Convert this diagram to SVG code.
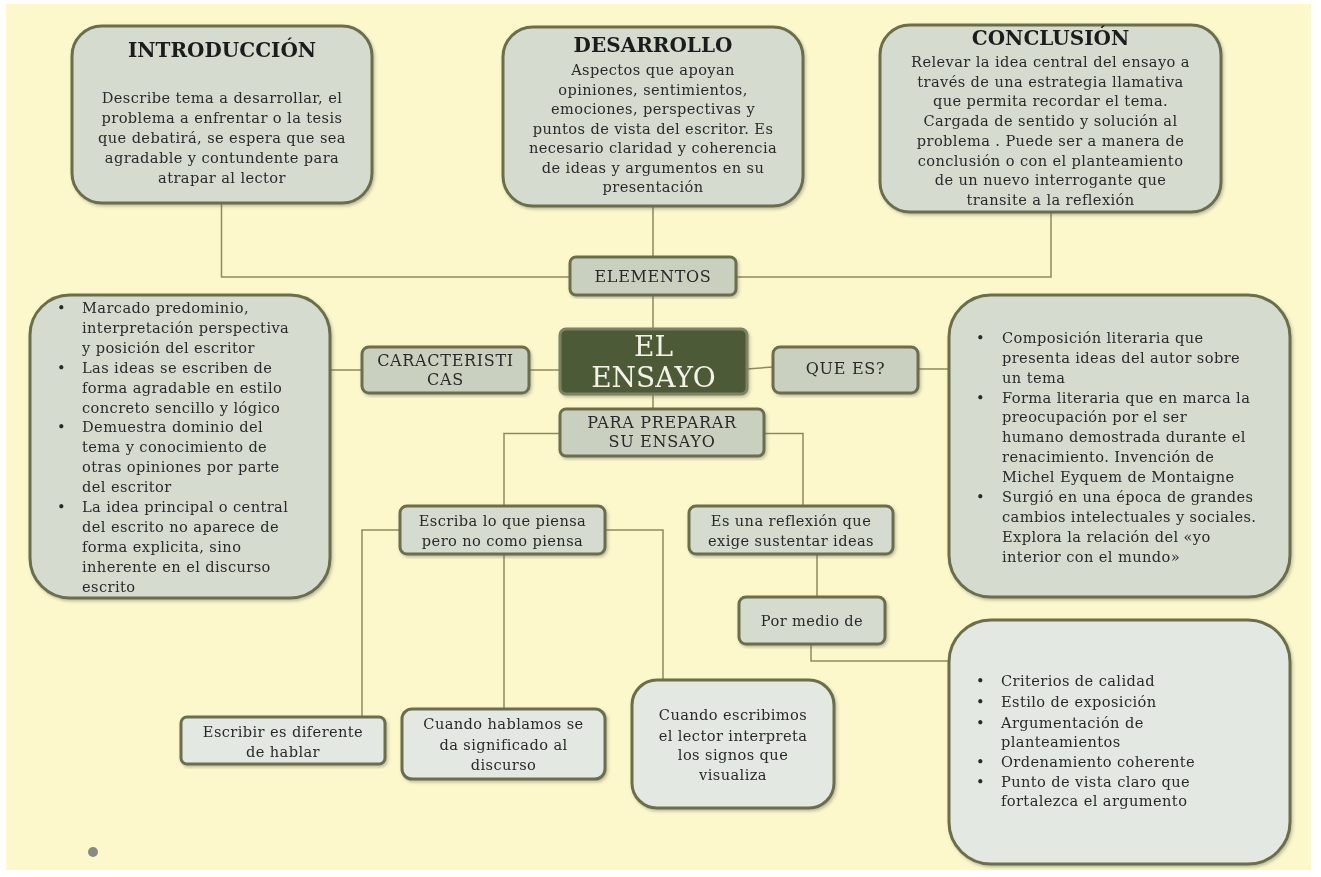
<svg xmlns="http://www.w3.org/2000/svg" width="1321" height="877" viewBox="0 0 1321 877">
<defs>
<style>
.bg{fill:#fcf8cc}
.box{fill:#d5dbcf;stroke:#6b6e4c;stroke-width:3}
.lbl{fill:#c9d0c0;stroke:#6b6e4c;stroke-width:3}
.lite{fill:#e4e8e2;stroke:#6b6e4c;stroke-width:3}
.core{fill:#4e5a38;stroke:#7b8262;stroke-width:3}
.t{font-family:"DejaVu Serif","Liberation Serif",serif;font-size:14.6px;letter-spacing:0.4px;fill:#2a2a2a}
.c{text-anchor:middle}
.h{font-family:"DejaVu Serif","Liberation Serif",serif;font-size:20px;font-weight:bold;fill:#1e1e1e;text-anchor:middle}
.n{font-family:"DejaVu Serif","Liberation Serif",serif;font-size:16px;letter-spacing:0.7px;fill:#2a2a2a;text-anchor:middle}
.w{font-family:"DejaVu Serif","Liberation Serif",serif;font-size:28px;fill:#f2f2e6;text-anchor:middle}
.ln{fill:none;stroke:#8d8b5c;stroke-width:1.5}
</style>
<filter id="sh" x="-5%" y="-5%" width="115%" height="115%">
<feDropShadow dx="1.5" dy="2" stdDeviation="1.5" flood-color="#555" flood-opacity="0.35"/>
</filter>
</defs>
<rect width="1321" height="877" fill="#ffffff"/>
<rect class="bg" x="6" y="4" width="1305" height="866"/>

<g id="connectors">
<path class="ln" d="M221.5 202 V277 H1051 V212"/>
<path class="ln" d="M653 206 V257"/>
<path class="ln" d="M653 295 V329"/>
<path class="ln" d="M330 370 H362"/>
<path class="ln" d="M529 370 H560"/>
<path class="ln" d="M747 369 L773 367"/>
<path class="ln" d="M918 369 H949"/>
<path class="ln" d="M653 394 V409"/>
<path class="ln" d="M560 433.5 H504 V506"/>
<path class="ln" d="M764 433.5 H803 V506"/>
<path class="ln" d="M400 530 H362 V717"/>
<path class="ln" d="M504 554 V709"/>
<path class="ln" d="M605 530 H663 V680"/>
<path class="ln" d="M817 554 V597"/>
<path class="ln" d="M811 644 V661 H949"/>
</g>

<g id="introduccion" filter="url(#sh)">
<rect class="box" x="72" y="26" width="300" height="177" rx="30"/>
<text class="h" x="222" y="57">INTRODUCCIÓN</text>
<text class="t c" x="222" y="103">Describe tema a desarrollar, el</text>
<text class="t c" x="222" y="123">problema a enfrentar o la tesis</text>
<text class="t c" x="222" y="143">que debatirá, se espera que sea</text>
<text class="t c" x="222" y="163">agradable y contundente para</text>
<text class="t c" x="222" y="183">atrapar al lector</text>
</g>

<g id="desarrollo" filter="url(#sh)">
<rect class="box" x="503" y="27" width="300" height="179" rx="30"/>
<text class="h" x="653" y="52">DESARROLLO</text>
<text class="t c" x="653" y="75">Aspectos que apoyan</text>
<text class="t c" x="653" y="94.5">opiniones, sentimientos,</text>
<text class="t c" x="653" y="114">emociones, perspectivas y</text>
<text class="t c" x="653" y="133.5">puntos de vista del escritor. Es</text>
<text class="t c" x="653" y="153">necesario claridad y coherencia</text>
<text class="t c" x="653" y="172.5">de ideas y argumentos en su</text>
<text class="t c" x="653" y="192">presentación</text>
</g>

<g id="conclusion" filter="url(#sh)">
<rect class="box" x="880" y="25" width="341" height="187" rx="30"/>
<text class="h" x="1050.5" y="45">CONCLUSIÓN</text>
<text class="t c" x="1050.5" y="67">Relevar la idea central del ensayo a</text>
<text class="t c" x="1050.5" y="86.7">través de una estrategia llamativa</text>
<text class="t c" x="1050.5" y="106.4">que permita recordar el tema.</text>
<text class="t c" x="1050.5" y="126">Cargada de sentido y solución al</text>
<text class="t c" x="1050.5" y="145.8">problema . Puede ser a manera de</text>
<text class="t c" x="1050.5" y="165.5">conclusión o con el planteamiento</text>
<text class="t c" x="1050.5" y="185.2">de un nuevo interrogante que</text>
<text class="t c" x="1050.5" y="205">transite a la reflexión</text>
</g>

<g id="elementos" filter="url(#sh)">
<rect class="lbl" x="570" y="257" width="166" height="38" rx="6"/>
<text class="n" x="653" y="282">ELEMENTOS</text>
</g>

<g id="el-ensayo" filter="url(#sh)">
<rect class="core" x="560" y="329" width="187" height="65" rx="6"/>
<text class="w" x="653.5" y="356">EL</text>
<text class="w" x="653.5" y="387">ENSAYO</text>
</g>

<g id="caracteristicas" filter="url(#sh)">
<rect class="lbl" x="362" y="347" width="167" height="46" rx="7"/>
<text class="n" x="445.5" y="366">CARACTERISTI</text>
<text class="n" x="445.5" y="385">CAS</text>
</g>

<g id="que-es" filter="url(#sh)">
<rect class="lbl" x="773" y="347" width="145" height="46" rx="7"/>
<text class="n" x="845.5" y="374">QUE ES?</text>
</g>

<g id="caracteristicas-lista" filter="url(#sh)">
<rect class="box" x="30" y="295" width="300" height="303" rx="40"/>
<text class="t" x="57" y="313">•</text>
<text class="t" x="82" y="313">Marcado predominio,</text>
<text class="t" x="82" y="333">interpretación perspectiva</text>
<text class="t" x="82" y="352.8">y posición del escritor</text>
<text class="t" x="57" y="372.7">•</text>
<text class="t" x="82" y="372.7">Las ideas se escriben de</text>
<text class="t" x="82" y="392.6">forma agradable en estilo</text>
<text class="t" x="82" y="412.5">concreto sencillo y lógico</text>
<text class="t" x="57" y="432.4">•</text>
<text class="t" x="82" y="432.4">Demuestra dominio del</text>
<text class="t" x="82" y="452.3">tema y conocimiento de</text>
<text class="t" x="82" y="472.2">otras opiniones por parte</text>
<text class="t" x="82" y="492.1">del escritor</text>
<text class="t" x="57" y="512">•</text>
<text class="t" x="82" y="512">La idea principal o central</text>
<text class="t" x="82" y="531.9">del escrito no aparece de</text>
<text class="t" x="82" y="551.8">forma explicita, sino</text>
<text class="t" x="82" y="571.7">inherente en el discurso</text>
<text class="t" x="82" y="591.6">escrito</text>
</g>

<g id="que-es-lista" filter="url(#sh)">
<rect class="box" x="949" y="295" width="341" height="302" rx="42"/>
<text class="t" x="976" y="343">•</text>
<text class="t" x="1002" y="343">Composición literaria que</text>
<text class="t" x="1002" y="363">presenta ideas del autor sobre</text>
<text class="t" x="1002" y="382.5">un tema</text>
<text class="t" x="976" y="403">•</text>
<text class="t" x="1002" y="403">Forma literaria que en marca la</text>
<text class="t" x="1002" y="422">preocupación por el ser</text>
<text class="t" x="1002" y="441.5">humano demostrada durante el</text>
<text class="t" x="1002" y="462">renacimiento. Invención de</text>
<text class="t" x="1002" y="481.5">Michel Eyquem de Montaigne</text>
<text class="t" x="976" y="501.5">•</text>
<text class="t" x="1002" y="501.5">Surgió en una época de grandes</text>
<text class="t" x="1002" y="522">cambios intelectuales y sociales.</text>
<text class="t" x="1002" y="542">Explora la relación del «yo</text>
<text class="t" x="1002" y="561.5">interior con el mundo»</text>
</g>

<g id="para-preparar" filter="url(#sh)">
<rect class="lbl" x="560" y="409" width="204" height="47" rx="6"/>
<text class="n" x="662" y="428">PARA PREPARAR</text>
<text class="n" x="662" y="447">SU ENSAYO</text>
</g>

<g id="escriba" filter="url(#sh)">
<rect class="box" x="400" y="506" width="205" height="48" rx="7"/>
<text class="t c" x="502.5" y="526">Escriba lo que piensa</text>
<text class="t c" x="502.5" y="546">pero no como piensa</text>
</g>

<g id="reflexion" filter="url(#sh)">
<rect class="box" x="689" y="506" width="204" height="48" rx="7"/>
<text class="t c" x="791" y="526">Es una reflexión que</text>
<text class="t c" x="791" y="546">exige sustentar ideas</text>
</g>

<g id="por-medio" filter="url(#sh)">
<rect class="box" x="739" y="597" width="146" height="47" rx="7"/>
<text class="t c" x="812" y="626">Por medio de</text>
</g>

<g id="escribir-diferente" filter="url(#sh)">
<rect class="lite" x="181" y="717" width="204" height="47" rx="6"/>
<text class="t c" x="283" y="736.5">Escribir es diferente</text>
<text class="t c" x="283" y="757">de hablar</text>
</g>

<g id="cuando-hablamos" filter="url(#sh)">
<rect class="lite" x="402" y="709" width="203" height="70" rx="10"/>
<text class="t c" x="503.5" y="729">Cuando hablamos se</text>
<text class="t c" x="503.5" y="750">da significado al</text>
<text class="t c" x="503.5" y="770">discurso</text>
</g>

<g id="cuando-escribimos" filter="url(#sh)">
<rect class="lite" x="632" y="680" width="202" height="128" rx="25"/>
<text class="t c" x="733" y="720">Cuando escribimos</text>
<text class="t c" x="733" y="740.5">el lector interpreta</text>
<text class="t c" x="733" y="760">los signos que</text>
<text class="t c" x="733" y="779.6">visualiza</text>
</g>

<g id="criterios" filter="url(#sh)">
<rect class="lite" x="949" y="620" width="341" height="244" rx="42"/>
<text class="t" x="976" y="686">•</text>
<text class="t" x="1001" y="686">Criterios de calidad</text>
<text class="t" x="976" y="707">•</text>
<text class="t" x="1001" y="707">Estilo de exposición</text>
<text class="t" x="976" y="727.6">•</text>
<text class="t" x="1001" y="727.6">Argumentación de</text>
<text class="t" x="1001" y="747">planteamientos</text>
<text class="t" x="976" y="767">•</text>
<text class="t" x="1001" y="767">Ordenamiento coherente</text>
<text class="t" x="976" y="787">•</text>
<text class="t" x="1001" y="787">Punto de vista claro que</text>
<text class="t" x="1001" y="806">fortalezca el argumento</text>
</g>

<circle cx="93" cy="852" r="5" fill="#8a8a84"/>
</svg>
